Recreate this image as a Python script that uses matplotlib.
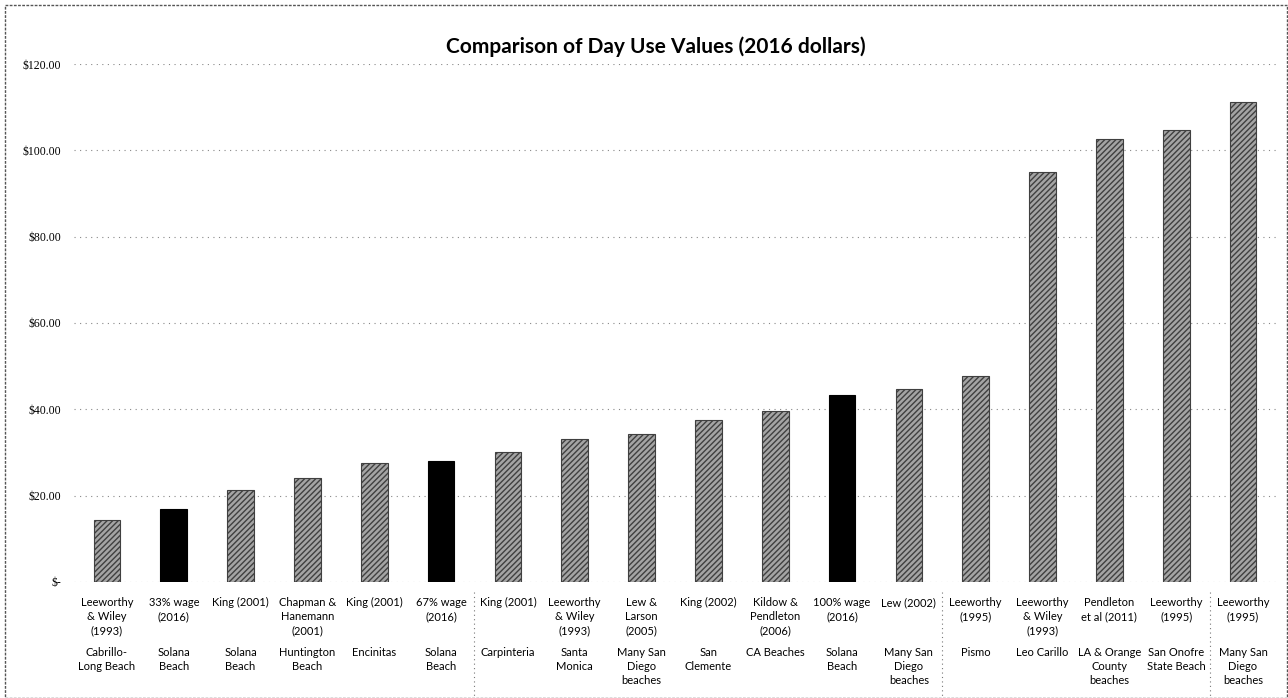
import numpy as np
import matplotlib
matplotlib.use("Agg")
import matplotlib.pyplot as plt
from matplotlib.patches import Rectangle

# study / method labels (first row under the bars)
studies = [
    "Leeworthy\n& Wiley\n(1993)", "33% wage\n(2016)", "King (2001)",
    "Chapman &\nHanemann\n(2001)", "King (2001)", "67% wage\n(2016)",
    "King (2001)", "Leeworthy\n& Wiley\n(1993)", "Lew &\nLarson\n(2005)",
    "King (2002)", "Kildow &\nPendleton\n(2006)", "100% wage\n(2016)",
    "Lew (2002)", "Leeworthy\n(1995)", "Leeworthy\n& Wiley\n(1993)",
    "Pendleton\net al (2011)", "Leeworthy\n(1995)", "Leeworthy\n(1995)",
]
# beach labels (second row)
beaches = [
    "Cabrillo-\nLong Beach", "Solana\nBeach", "Solana\nBeach",
    "Huntington\nBeach", "Encinitas", "Solana\nBeach", "Carpinteria",
    "Santa\nMonica", "Many San\nDiego\nbeaches", "San\nClemente",
    "CA Beaches", "Solana\nBeach", "Many San\nDiego\nbeaches", "Pismo",
    "Leo Carillo", "LA & Orange\nCounty\nbeaches", "San Onofre\nState Beach",
    "Many San\nDiego\nbeaches",
]
values = [14.4, 16.8, 21.3, 24.0, 27.5, 28.0, 30.0, 33.1, 34.3,
          37.5, 39.6, 43.4, 44.8, 47.7, 95.0, 102.7, 104.8, 111.1]
# Solana Beach wage-based estimates from this study
highlight = [False, True, False, False, False, True, False, False, False,
             False, False, True, False, False, False, False, False, False]
group_breaks = [6, 13, 17]  # separators drawn after these categories

yticks = [0, 20, 40, 60, 80, 100, 120]
ytick_labels = ["$-", "$20.00", "$40.00", "$60.00", "$80.00", "$100.00", "$120.00"]

plt.rcParams['font.family'] = ['Lato', 'DejaVu Sans']

fig = plt.figure(figsize=(12.88, 6.98), dpi=100)
ax = fig.add_axes([0.0571, 0.1662, 0.9339, 0.7421])

x = np.arange(len(values))
for xi, v, hl in zip(x, values, highlight):
    if hl:
        ax.bar(xi, v, width=0.4, color='black', edgecolor='black', linewidth=0.8, zorder=3)
    else:
        ax.bar(xi, v, width=0.4, color='#a4a4a4', edgecolor='#404040',
               hatch='//////', linewidth=0.8, zorder=3)

ax.set_xlim(-0.5, len(values) - 0.5)
ax.set_ylim(0, 120)
ax.set_yticks(yticks)
ax.set_yticklabels(ytick_labels, family='Liberation Serif', fontsize=8.5)
ax.grid(axis='y', linestyle=(0, (1, 4)), color='#888888', linewidth=0.8, zorder=0)
ax.tick_params(axis='y', length=0, pad=9)
ax.tick_params(axis='x', length=0, pad=11)
for s in ax.spines.values():
    s.set_visible(False)

ax.set_xticks(x)
ax.set_xticklabels(studies, fontsize=8, linespacing=1.35, va='top')
for xi, b in zip(x, beaches):
    ax.text(xi, -0.125, b, transform=ax.get_xaxis_transform(), ha='center',
            va='top', fontsize=8, linespacing=1.35)

for g in group_breaks:
    ax.plot([g - 0.5, g - 0.5], [-0.02, -0.225], transform=ax.get_xaxis_transform(),
            clip_on=False, linestyle=(0, (1, 3)), color='#777777', linewidth=0.8)

fig.text(0.509, 0.933, "Comparison of Day Use Values (2016 dollars)",
         ha='center', va='center', fontsize=15, fontweight='bold')

fig.patches.append(Rectangle((0.004, 0.0), 0.995, 0.993, transform=fig.transFigure,
                             fill=False, edgecolor='#555555', linewidth=1.0,
                             linestyle=(0, (2, 1))))

fig.savefig("out.png", dpi=100)
